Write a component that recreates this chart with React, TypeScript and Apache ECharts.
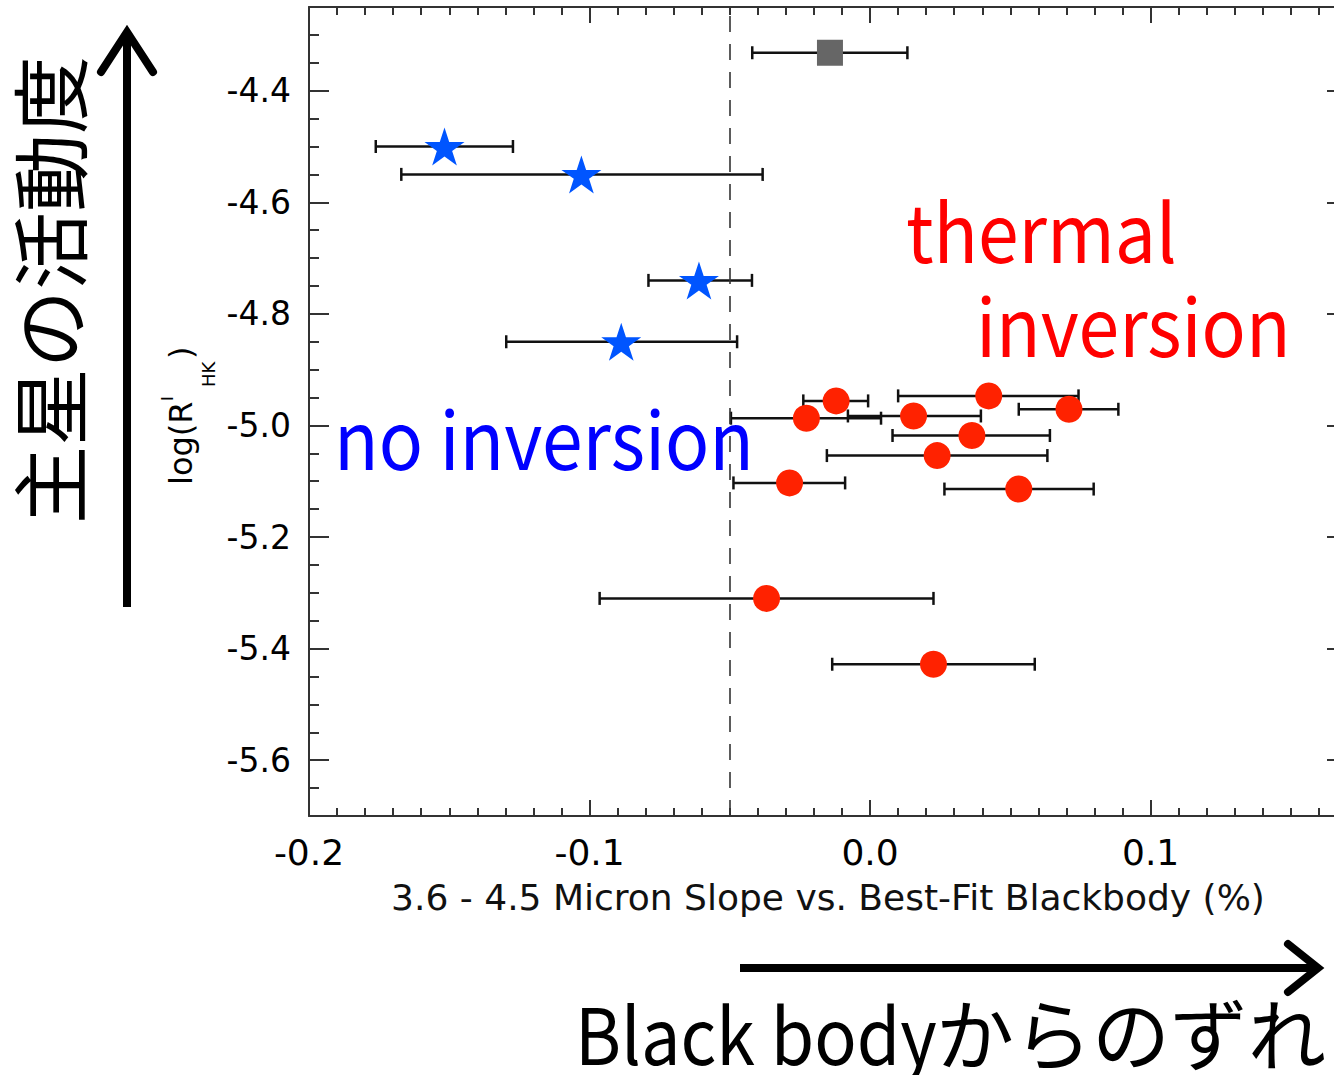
import React, { useEffect, useRef } from "react";
import * as echarts from "echarts";

// ---- axis ranges / ticks ----
const xRange = [-0.2, 0.17];
const yRange = [-5.7, -4.25];
const xMajorStep = 0.1;
const xMinorStep = 0.01;
const yMajorStep = 0.2;
const yMinorStep = 0.05;
const boundaryX = [-0.05];

// ---- no inversion (blue stars) ----
const starX = [-0.1517, -0.1029, -0.061, -0.0887];
const starY = [-4.5, -4.55, -4.74, -4.85];
const starXLow = [-0.1762, -0.1671, -0.079, -0.1297];
const starXHigh = [-0.1273, -0.0383, -0.0421, -0.0474];

// ---- thermal inversion (red circles) ----
const circX = [-0.0121, 0.0423, 0.0709, -0.0227, 0.0155, 0.0363, 0.0239, -0.0287, 0.053, -0.0369, 0.0226];
const circY = [-4.956, -4.947, -4.971, -4.987, -4.983, -5.018, -5.054, -5.103, -5.114, -5.31, -5.428];
const circXLow = [-0.0238, 0.01, 0.053, -0.0496, -0.0079, 0.008, -0.0154, -0.0487, 0.0265, -0.0964, -0.0135];
const circXHigh = [-0.0007, 0.0743, 0.0885, 0.0039, 0.0395, 0.0641, 0.0632, -0.0089, 0.0797, 0.0226, 0.0587];

// ---- unclassified (grey square) ----
const sqX = [-0.0143];
const sqY = [-4.332];
const sqXLow = [-0.042];
const sqXHigh = [0.0133];

const texts = {
  yTitle: "主星の活動度",
  xTitleLatin: "Black body",
  xTitleKana: "からのずれ",
  thermal: "thermal",
  inversion: "inversion",
  noInv: "no inversion",
  xAxisName: "3.6 - 4.5 Micron Slope vs. Best-Fit Blackbody (%)",
};

function starPath(): string {
  const pts: string[] = [];
  for (let i = 0; i < 10; i++) {
    const r = i % 2 === 0 ? 50 : 19.1;
    const a = -Math.PI / 2 + (i * Math.PI) / 5;
    pts.push(`${(50 + r * Math.cos(a)).toFixed(2)} ${(50 + r * Math.sin(a)).toFixed(2)}`);
  }
  return "path://M" + pts.join(" L") + " Z";
}

const AX = "#333";
const LABEL_FONT = "DejaVu Sans";
const JP_FONT = "Noto Sans CJK JP";
const LATIN_SQUEEZE = 0.915;

function App() {
  const ref = useRef<HTMLDivElement>(null);
  useEffect(() => {
    if (!ref.current) return;
    const chart = echarts.init(ref.current, undefined, { renderer: "svg" });

    const errData: number[][] = [];
    starX.forEach((_, i) => errData.push([starXLow[i], starXHigh[i], starY[i]]));
    circX.forEach((_, i) => errData.push([circXLow[i], circXHigh[i], circY[i]]));
    sqX.forEach((_, i) => errData.push([sqXLow[i], sqXHigh[i], sqY[i]]));

    const xBase = {
      type: "value",
      min: xRange[0],
      max: xRange[1],
      splitLine: { show: false },
      gridIndex: 0,
    };
    const yBase = {
      type: "value",
      min: yRange[0],
      max: yRange[1],
      splitLine: { show: false },
      gridIndex: 0,
    };
    const majorLine = { show: true, onZero: false, lineStyle: { color: AX, width: 2 } };

    const option: any = {
      animation: false,
      backgroundColor: "#fff",
      grid: {
        left: 309,
        top: 7,
        width: 1038,
        height: 809,
        containLabel: false,
        outerBoundsMode: "none",
      },
      xAxis: [
        {
          ...xBase,
          position: "bottom",
          interval: xMajorStep,
          axisLine: majorLine,
          axisTick: { show: true, inside: true, length: 16, lineStyle: { color: AX, width: 2 } },
          axisLabel: {
            show: true,
            margin: 18,
            fontSize: 36,
            fontFamily: LABEL_FONT,
            color: "#000",
            showMaxLabel: false,
            formatter: (v: number) => v.toFixed(1),
          },
          name: texts.xAxisName,
          nameLocation: "middle",
          nameGap: 63,
          nameTextStyle: { fontSize: 36, fontFamily: LABEL_FONT, color: "#111" },
        },
        {
          ...xBase,
          position: "bottom",
          interval: xMinorStep,
          axisLine: { show: false, onZero: false },
          axisTick: { show: true, inside: true, length: 8, lineStyle: { color: AX, width: 2 } },
          axisLabel: { show: false },
        },
        {
          ...xBase,
          position: "top",
          interval: xMajorStep,
          axisLine: majorLine,
          axisTick: { show: true, inside: true, length: 16, lineStyle: { color: AX, width: 2 } },
          axisLabel: { show: false },
        },
        {
          ...xBase,
          position: "top",
          interval: xMinorStep,
          axisLine: { show: false, onZero: false },
          axisTick: { show: true, inside: true, length: 8, lineStyle: { color: AX, width: 2 } },
          axisLabel: { show: false },
        },
      ],
      yAxis: [
        {
          ...yBase,
          position: "left",
          splitNumber: 7,
          minInterval: yMajorStep,
          maxInterval: yMajorStep,
          axisLine: majorLine,
          axisTick: { show: true, inside: true, length: 20, lineStyle: { color: AX, width: 2 } },
          axisLabel: {
            show: true,
            margin: 18,
            fontSize: 33,
            fontFamily: LABEL_FONT,
            color: "#000",
            showMinLabel: false,
            showMaxLabel: false,
            formatter: (v: number) => v.toFixed(1),
          },
        },
        {
          ...yBase,
          position: "left",
          interval: yMinorStep,
          axisLine: { show: false, onZero: false },
          axisTick: { show: true, inside: true, length: 10, lineStyle: { color: AX, width: 2 } },
          axisLabel: { show: false },
        },
        {
          ...yBase,
          position: "right",
          splitNumber: 7,
          minInterval: yMajorStep,
          maxInterval: yMajorStep,
          axisLine: majorLine,
          axisTick: { show: true, inside: true, length: 20, lineStyle: { color: AX, width: 2 } },
          axisLabel: { show: false },
        },
        {
          ...yBase,
          position: "right",
          interval: yMinorStep,
          axisLine: { show: false, onZero: false },
          axisTick: { show: true, inside: true, length: 10, lineStyle: { color: AX, width: 2 } },
          axisLabel: { show: false },
        },
      ],
      series: [
        {
          type: "custom",
          name: "errors",
          xAxisIndex: 0,
          yAxisIndex: 0,
          z: 2,
          silent: true,
          encode: { x: [0, 1], y: 2 },
          data: errData,
          renderItem: (params: any, api: any) => {
            const lo = api.coord([api.value(0), api.value(2)]);
            const hi = api.coord([api.value(1), api.value(2)]);
            const h = 6.5;
            const st = { stroke: "#111", lineWidth: 2.5 };
            return {
              type: "group",
              children: [
                { type: "line", shape: { x1: lo[0], y1: lo[1], x2: hi[0], y2: hi[1] }, style: st },
                { type: "line", shape: { x1: lo[0], y1: lo[1] - h, x2: lo[0], y2: lo[1] + h }, style: st },
                { type: "line", shape: { x1: hi[0], y1: hi[1] - h, x2: hi[0], y2: hi[1] + h }, style: st },
              ],
            };
          },
        },
        {
          type: "scatter",
          name: "no inversion",
          xAxisIndex: 0,
          yAxisIndex: 0,
          z: 3,
          symbol: starPath(),
          symbolSize: [40, 38],
          itemStyle: { color: "#0055ff", opacity: 1 },
          data: starX.map((x, i) => [x, starY[i]]),
        },
        {
          type: "scatter",
          name: "thermal inversion",
          xAxisIndex: 0,
          yAxisIndex: 0,
          z: 3,
          symbol: "circle",
          symbolSize: 27,
          itemStyle: { color: "#ff2200", opacity: 1 },
          data: circX.map((x, i) => [x, circY[i]]),
        },
        {
          type: "scatter",
          name: "other",
          xAxisIndex: 0,
          yAxisIndex: 0,
          z: 3,
          symbol: "rect",
          symbolSize: 26,
          itemStyle: { color: "#666666", opacity: 1 },
          data: sqX.map((x, i) => [x, sqY[i]]),
          markLine: {
            silent: true,
            symbol: ["none", "none"],
            label: { show: false },
            lineStyle: { color: "#333", type: [16, 12], width: 1.6 },
            data: [{ xAxis: boundaryX[0] }],
          },
        },
      ],
      graphic: [
        // vertical arrow
        {
          type: "line",
          shape: { x1: 127, y1: 607, x2: 127, y2: 34 },
          style: { stroke: "#000", lineWidth: 8 },
        },
        {
          type: "polyline",
          shape: { points: [[101, 72], [127, 32], [153, 72]] },
          style: { stroke: "#000", lineWidth: 8, fill: null, lineCap: "round", lineJoin: "miter" },
        },
        // horizontal arrow
        {
          type: "line",
          shape: { x1: 740, y1: 968, x2: 1314, y2: 968 },
          style: { stroke: "#000", lineWidth: 8 },
        },
        {
          type: "polyline",
          shape: { points: [[1288, 944], [1318, 968], [1288, 992]] },
          style: { stroke: "#000", lineWidth: 8, fill: null, lineCap: "round", lineJoin: "miter" },
        },
        // Japanese titles
        {
          type: "text",
          x: 47,
          y: 290,
          rotation: Math.PI / 2,
          style: {
            text: texts.yTitle,
            fontSize: 78,
            fontFamily: JP_FONT,
            fill: "#000",
            align: "center",
            verticalAlign: "middle",
          },
        },
        {
          type: "text",
          x: 575,
          y: 1031,
          scaleX: 0.9,
          style: {
            text: texts.xTitleLatin,
            fontSize: 78,
            fontFamily: JP_FONT,
            fill: "#000",
            align: "left",
            verticalAlign: "middle",
          },
        },
        {
          type: "text",
          x: 936,
          y: 1031,
          style: {
            text: texts.xTitleKana,
            fontSize: 78,
            fontFamily: JP_FONT,
            fill: "#000",
            align: "left",
            verticalAlign: "middle",
          },
        },
        // annotations
        {
          type: "text",
          x: 906,
          y: 228,
          scaleX: LATIN_SQUEEZE,
          style: { text: texts.thermal, fontSize: 80, fontFamily: JP_FONT, fill: "#ff0000", align: "left", verticalAlign: "middle" },
        },
        {
          type: "text",
          x: 976,
          y: 322,
          scaleX: LATIN_SQUEEZE,
          style: { text: texts.inversion, fontSize: 80, fontFamily: JP_FONT, fill: "#ff0000", align: "left", verticalAlign: "middle" },
        },
        {
          type: "text",
          x: 334,
          y: 435,
          scaleX: LATIN_SQUEEZE,
          style: { text: texts.noInv, fontSize: 80, fontFamily: JP_FONT, fill: "#0000ff", align: "left", verticalAlign: "middle" },
        },
        // y-axis name: log(R^I_HK)
        {
          type: "group",
          x: 192,
          y: 485,
          rotation: Math.PI / 2,
          children: [
            {
              type: "text",
              x: 0,
              y: -11,
              style: { text: "log(R", fontSize: 32, fontFamily: LABEL_FONT, fill: "#000", align: "left", verticalAlign: "middle" },
            },
            {
              type: "text",
              x: 84,
              y: -25,
              style: { text: "I", fontSize: 16, fontFamily: LABEL_FONT, fill: "#000", align: "left", verticalAlign: "middle" },
            },
            {
              type: "text",
              x: 98,
              y: 16,
              style: { text: "HK", fontSize: 18, fontFamily: LABEL_FONT, fill: "#000", align: "left", verticalAlign: "middle" },
            },
            {
              type: "text",
              x: 126,
              y: -11,
              style: { text: ")", fontSize: 32, fontFamily: LABEL_FONT, fill: "#000", align: "left", verticalAlign: "middle" },
            },
          ],
        },
      ],
    };
    chart.setOption(option);
    return () => chart.dispose();
  }, []);
  return (
    <div
      ref={ref}
      style={{ position: "fixed", left: 0, top: 0, width: 1334, height: 1075, background: "#fff" }}
    />
  );
}

export default App;
